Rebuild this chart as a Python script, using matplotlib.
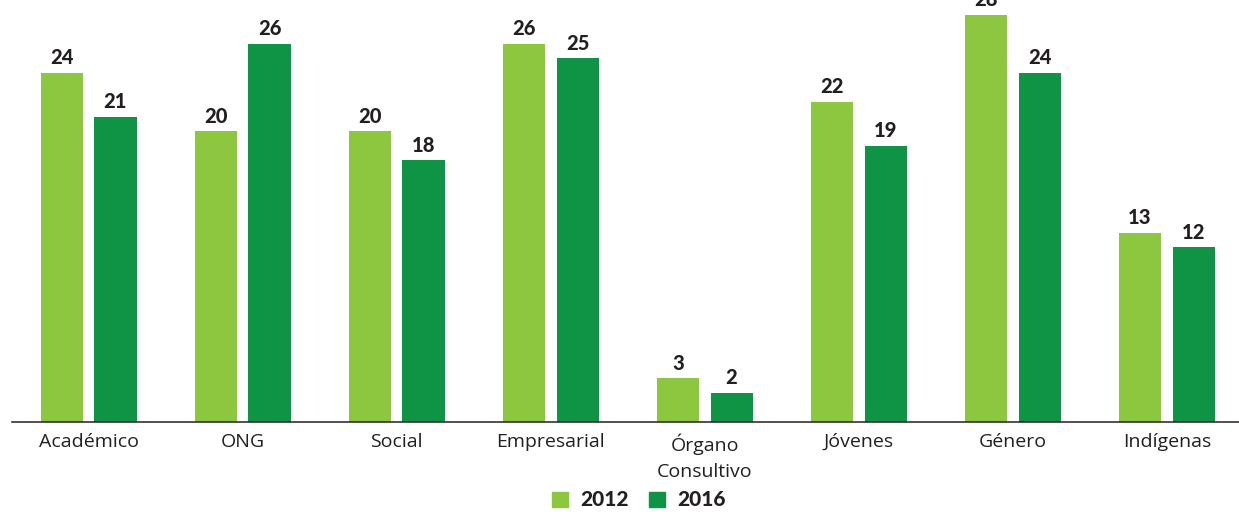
import matplotlib.pyplot as plt
from matplotlib.patches import Patch
import numpy as np

# Values per sector, 2012 vs 2016
categories = ['Académico', 'ONG', 'Social', 'Empresarial', 'Órgano\nConsultivo',
              'Jóvenes', 'Género', 'Indígenas']
values_2012 = [24, 20, 20, 26, 3, 22, 28, 13]
values_2016 = [21, 26, 18, 25, 2, 19, 24, 12]

col_2012 = '#8DC63F'
col_2016 = '#0F9345'
txt_col = '#231F20'

W, H = 1239, 512
fig = plt.figure(figsize=(W / 100, H / 100), dpi=100)
# axes placed in pixel terms: baseline at y=422, top of 28 at y~14.7
ax = fig.add_axes([12 / W, 90 / H, (W - 12) / W, (422 - 14.7) / H])

x = np.arange(len(categories))
width = 0.273
off = 0.174

bars1 = ax.bar(x - off, values_2012, width, color=col_2012, label='2012')
bars2 = ax.bar(x + off, values_2016, width, color=col_2016, label='2016')

for bars, vals in [(bars1, values_2012), (bars2, values_2016)]:
    for b, v in zip(bars, vals):
        ax.annotate(str(v), (b.get_x() + b.get_width() / 2, v),
                    xytext=(0, 4), textcoords='offset points',
                    ha='center', va='bottom', fontsize=14.5,
                    fontweight='black', family='Lato', color=txt_col,
                    clip_on=False, annotation_clip=False)

ax.set_xlim(-0.498, 7.469)
ax.set_ylim(0, 28)
ax.set_xticks(x)
ax.set_xticklabels(categories, fontsize=14, family='Open Sans', color=txt_col,
                   linespacing=1.6)
ax.tick_params(axis='x', length=0, pad=8)
ax.set_yticks([])
for s in ['top', 'right', 'left']:
    ax.spines[s].set_visible(False)
ax.spines['bottom'].set_color(txt_col)
ax.spines['bottom'].set_linewidth(1.1)

handles = [Patch(color=col_2012, label='2012'), Patch(color=col_2016, label='2016')]
fig.legend(handles=handles, loc='center', bbox_to_anchor=(639 / W, 12 / H),
           ncol=2, frameon=False, handlelength=0.75, handleheight=0.75,
           handletextpad=0.6, columnspacing=1.0,
           prop={'family': 'Lato', 'weight': 'black', 'size': 15})
for t in fig.legends[0].get_texts():
    t.set_color(txt_col)

fig.savefig('out.png', dpi=100)
